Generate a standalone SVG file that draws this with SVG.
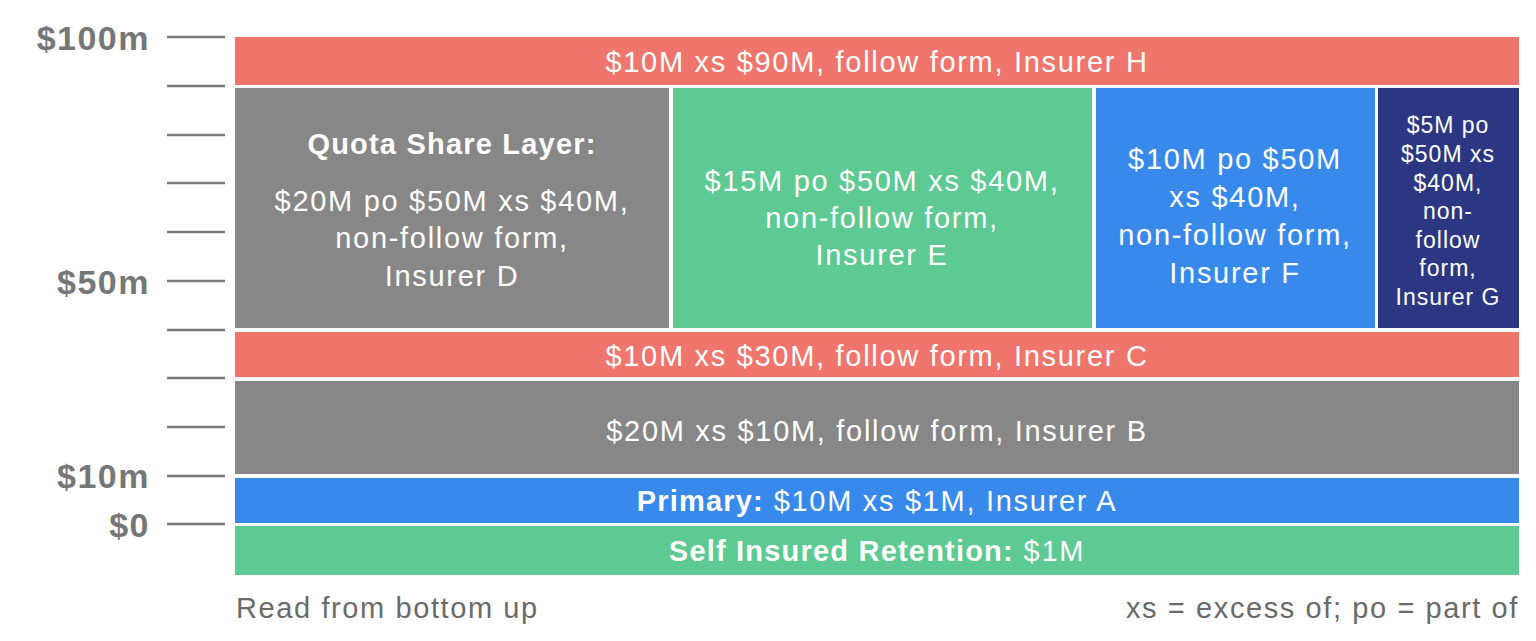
<svg xmlns="http://www.w3.org/2000/svg" width="1536" height="641" viewBox="0 0 1536 641">
<style>
.tick{stroke:#7a7a7a;stroke-width:2.5}
.ax{font-family:"Liberation Sans",Arial,sans-serif;font-weight:bold;font-size:34px;letter-spacing:1.5px;fill:#767676;text-anchor:end}
.lb{font-family:"Liberation Sans",Arial,sans-serif;font-size:29px;letter-spacing:1.7px;fill:#ffffff;text-anchor:middle}
.sm{font-family:"Liberation Sans",Arial,sans-serif;font-size:23px;letter-spacing:1px;fill:#ffffff;text-anchor:middle}
.b{font-weight:bold;letter-spacing:1.2px}
.note{font-family:"Liberation Sans",Arial,sans-serif;font-size:29px;letter-spacing:1.6px;fill:#6a6a6a}
.red{fill:#EF756D}.gry{fill:#878787}.grn{fill:#5DC993}.blu{fill:#3889EC}.nav{fill:#2C3783}
</style>
<rect width="1536" height="641" fill="#ffffff"/>
<g id="axis">
<line class="tick" x1="167" y1="37" x2="225" y2="37"/>
<line class="tick" x1="167" y1="86" x2="225" y2="86"/>
<line class="tick" x1="167" y1="135" x2="225" y2="135"/>
<line class="tick" x1="167" y1="183" x2="225" y2="183"/>
<line class="tick" x1="167" y1="232" x2="225" y2="232"/>
<line class="tick" x1="167" y1="281" x2="225" y2="281"/>
<line class="tick" x1="167" y1="330" x2="225" y2="330"/>
<line class="tick" x1="167" y1="378" x2="225" y2="378"/>
<line class="tick" x1="167" y1="427" x2="225" y2="427"/>
<line class="tick" x1="167" y1="476" x2="225" y2="476"/>
<line class="tick" x1="167" y1="524" x2="225" y2="524"/>
<text class="ax" x="150" y="50">$100m</text>
<text class="ax" x="150" y="294">$50m</text>
<text class="ax" x="150" y="488">$10m</text>
<text class="ax" x="150" y="537">$0</text>
</g>
<g id="layer-H">
<rect class="red" x="235" y="37" width="1284" height="48"/>
<text class="lb" x="877" y="72">$10M xs $90M, follow form, Insurer H</text>
</g>
<g id="layer-D">
<rect class="gry" x="235" y="88" width="434" height="240"/>
<text class="lb b" x="452" y="154">Quota Share Layer:</text>
<text class="lb" x="452" y="211">$20M po $50M xs $40M,</text>
<text class="lb" x="452" y="248">non-follow form,</text>
<text class="lb" x="452" y="286">Insurer D</text>
</g>
<g id="layer-E">
<rect class="grn" x="673" y="88" width="419" height="240"/>
<text class="lb" x="882" y="191">$15M po $50M xs $40M,</text>
<text class="lb" x="882" y="228">non-follow form,</text>
<text class="lb" x="882" y="265">Insurer E</text>
</g>
<g id="layer-F">
<rect class="blu" x="1096" y="88" width="279" height="240"/>
<text class="lb" x="1235" y="169">$10M po $50M</text>
<text class="lb" x="1235" y="207">xs $40M,</text>
<text class="lb" x="1235" y="245">non-follow form,</text>
<text class="lb" x="1235" y="283">Insurer F</text>
</g>
<g id="layer-G">
<rect class="nav" x="1378" y="88" width="141" height="240"/>
<text class="sm" x="1448" y="133">$5M po</text>
<text class="sm" x="1448" y="162">$50M xs</text>
<text class="sm" x="1448" y="191">$40M,</text>
<text class="sm" x="1448" y="219">non-</text>
<text class="sm" x="1448" y="248">follow</text>
<text class="sm" x="1448" y="276">form,</text>
<text class="sm" x="1448" y="305">Insurer G</text>
</g>
<g id="layer-C">
<rect class="red" x="235" y="332" width="1284" height="45"/>
<text class="lb" x="877" y="366">$10M xs $30M, follow form, Insurer C</text>
</g>
<g id="layer-B">
<rect class="gry" x="235" y="381" width="1284" height="93"/>
<text class="lb" x="877" y="441">$20M xs $10M, follow form, Insurer B</text>
</g>
<g id="layer-A">
<rect class="blu" x="235" y="478" width="1284" height="45"/>
<text class="lb" x="877" y="511"><tspan class="b">Primary:</tspan> $10M xs $1M, Insurer A</text>
</g>
<g id="layer-SIR">
<rect class="grn" x="235" y="526" width="1284" height="49"/>
<text class="lb" x="877" y="561"><tspan class="b">Self Insured Retention:</tspan> $1M</text>
</g>
<g id="connectors"></g>
<g id="notes">
<text class="note" x="236" y="618">Read from bottom up</text>
<text class="note" x="1519" y="618" text-anchor="end">xs = excess of; po = part of</text>
</g>
</svg>
